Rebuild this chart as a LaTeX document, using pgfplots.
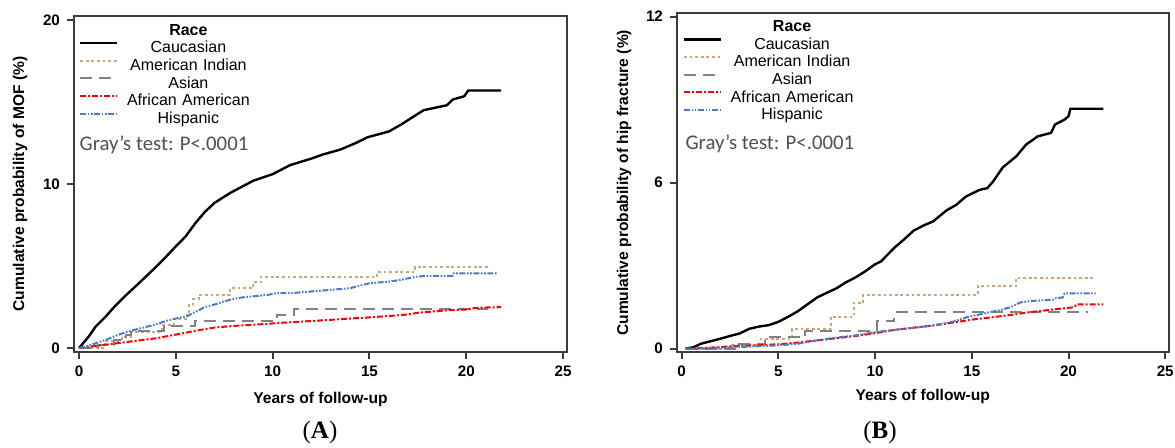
\documentclass[border=0pt]{standalone}
\usepackage{fontspec}
\setmainfont{Liberation Sans}
\newfontfamily\carlito{Carlito}
\newfontfamily\panelfont{Liberation Serif}
\usepackage{pgfplots}
\pgfplotsset{compat=1.18}

\definecolor{framec}{HTML}{3C3C3C}
\definecolor{tanl}{HTML}{CDA678}
\definecolor{grayl}{HTML}{828282}
\definecolor{bluel}{HTML}{4A7BCB}
\definecolor{redl}{HTML}{FF0000}
\definecolor{grtxt}{HTML}{505050}

\pgfplotsset{
  cif/.style={
    scale only axis, anchor=south west,
    axis line style={framec, line width=1pt},
    tick style={framec, line width=1pt},
    major tick length=3.5pt,
    tick align=outside, tick pos=left,
    xmin=-0.26, xmax=25.2, xtick={0,5,...,25},
    /pgf/number format/assume math mode=true,
    ticklabel style={font=\fontsize{7.6}{9}\selectfont\bfseries},
    label style={font=\fontsize{7.8}{9}\selectfont\bfseries},
    xlabel={Years of follow-up},
    legend image code/.code={\draw[##1] (0pt,2.9pt) -- (18.5pt,2.9pt);},
    legend style={draw=none, fill=none, inner sep=0pt, outer sep=0pt,
      anchor=north west, row sep=0.85pt,
      font=\fontsize{8}{9.6}\selectfont,
      nodes={inner xsep=0pt, inner ysep=0pt, text width=66pt, align=center,
        text height=6pt, text depth=2pt},
      /tikz/every odd column/.append style={column sep=2pt}},
  },
  cau/.style={black, line width=1.2pt},
  ami/.style={tanl, line width=1pt, dash pattern=on 1.4pt off 1.4pt},
  asi/.style={grayl, line width=1pt, dash pattern=on 6pt off 3.5pt},
  afr/.style={redl, line width=1pt, dash pattern=on 3pt off 1pt on 1pt off 1pt},
  his/.style={bluel, line width=1pt, dash pattern=on 3pt off 0.8pt on 0.8pt off 0.8pt on 0.8pt off 0.8pt},
}

\begin{document}
\begin{tikzpicture}
\path[use as bounding box] (0,0) rectangle (587.5pt,224pt);

% ---------- (A) major osteoporotic fracture
\begin{axis}[cif,
    at={(37pt,48pt)}, width=246.5pt, height=168pt,
    ymin=-0.24, ymax=20.24, ytick={0,10,20},
    ylabel={Cumulative probability of MOF (\%)},
    xlabel style={at={(axis description cs:0.5,-0.14)}, anchor=center},
    ylabel style={at={(axis description cs:-0.1095,0.5)}, anchor=center},
    legend style={at={(axis description cs:0.0101,0.979)}},
]
\addlegendimage{empty legend}
\addlegendentry{\textbf{Race}}

\addplot[cau] coordinates {
  (0,0) (0.5,0.7) (0.85,1.3) (1.4,1.95) (1.85,2.55) (2.45,3.25) (3.0,3.85)
  (3.4,4.3) (3.85,4.8) (4.4,5.45) (5.0,6.2) (5.5,6.8) (6.0,7.6) (6.5,8.3)
  (7.0,8.85) (7.8,9.45) (8.6,9.95) (9.0,10.2) (10.0,10.6) (10.9,11.15)
  (12.0,11.55) (12.6,11.8) (13.5,12.1) (14.3,12.5) (14.9,12.85) (16.0,13.2)
  (16.6,13.6) (17.4,14.2) (17.8,14.5) (19.0,14.8) (19.3,15.15) (19.9,15.35)
  (20.1,15.7) (21.8,15.7)
};
\addlegendentry{Caucasian}

\addplot[ami, const plot] coordinates {
  (0,0) (1.35,0.45) (2.2,0.65) (2.7,1.0) (4.3,1.4) (4.9,1.8) (5.6,2.1)
  (5.7,2.6) (5.9,3.0) (6.2,3.25) (7.8,3.65) (9.0,4.0) (9.4,4.35)
  (15.4,4.65) (17.35,4.95) (21.2,4.95)
};
\addlegendentry{American Indian}

\addplot[asi, const plot] coordinates {
  (0,0) (1.0,0.2) (1.8,0.5) (2.4,0.8) (2.7,1.05) (4.4,1.35) (6.0,1.65)
  (10.2,2.0) (11.1,2.35) (21.1,2.35)
};
\addlegendentry{Asian}

\addplot[afr] coordinates {
  (0,0) (1,0.15) (2,0.3) (3,0.45) (4,0.6) (5,0.82) (6,1.05) (7,1.25)
  (8,1.35) (9,1.42) (10,1.5) (11,1.58) (12,1.65) (13,1.72) (14,1.8)
  (15,1.87) (16,1.95) (17,2.05) (17.5,2.15) (18,2.2) (19,2.3) (20,2.35)
  (20.5,2.45) (21.8,2.5)
};
\addlegendentry{African American}

\addplot[his] coordinates {
  (0,0) (0.5,0.15) (1,0.35) (1.5,0.55) (2,0.8) (2.5,1.0) (3,1.15) (3.5,1.3)
  (4,1.45) (4.5,1.65) (5,1.8) (5.6,1.95) (6,2.2) (6.5,2.5) (7,2.65)
  (7.5,2.85) (8,3.0) (8.5,3.1) (9,3.15) (9.8,3.25) (10.2,3.35) (11,3.35)
  (12,3.45) (13,3.55) (14,3.65) (14.5,3.8) (15,3.95) (16,4.05) (16.6,4.15)
  (17.4,4.35) (18,4.4) (19.3,4.4) (19.35,4.55) (21.6,4.55)
};
\addlegendentry{Hispanic}

\node[font=\carlito\fontsize{10.4}{12}\selectfont, text=grtxt]
  at (axis description cs:0.1826,0.616) {Gray’s test: P<.0001};
\end{axis}

% ---------- (B) hip fracture
\begin{axis}[cif,
    at={(338.5pt,47.85pt)}, width=245.75pt, height=169.5pt,
    xmin=-0.24, xmax=25.17,
    ymin=-0.13, ymax=12.12, ytick={0,6,12},
    ylabel={Cumulative probability of hip fracture (\%)},
    xlabel style={at={(axis description cs:0.5,-0.131)}, anchor=center},
    ylabel style={at={(axis description cs:-0.1078,0.5)}, anchor=center},
    legend style={at={(axis description cs:0.0116,0.9817)}},
]
\addlegendimage{empty legend}
\addlegendentry{\textbf{Race}}

\addplot[cau] coordinates {
  (0.2,0) (0.6,0.05) (1,0.18) (1.5,0.27) (2,0.36) (2.5,0.46) (3,0.55)
  (3.5,0.72) (4,0.8) (4.5,0.85) (5,0.97) (5.5,1.15) (6,1.35) (6.5,1.6)
  (7,1.85) (7.5,2.02) (8,2.18) (8.5,2.4) (9,2.58) (9.5,2.8) (10,3.05)
  (10.3,3.15) (11,3.65) (11.5,3.95) (12,4.27) (12.5,4.45) (13,4.6)
  (13.7,5.0) (14.2,5.2) (14.7,5.5) (15.4,5.74) (15.8,5.8) (16.1,6.04)
  (16.6,6.55) (17.3,6.95) (17.8,7.37) (18.4,7.67) (19.1,7.8) (19.3,8.1)
  (19.8,8.28) (20.0,8.4) (20.1,8.67) (21.8,8.67)
};
\addlegendentry{Caucasian}

\addplot[ami, const plot] coordinates {
  (0.2,0) (2.6,0.15) (4.1,0.36) (5.7,0.7) (7.7,1.15) (8.9,1.65) (9.4,1.95)
  (15.3,2.27) (17.3,2.57) (21.3,2.57)
};
\addlegendentry{American Indian}

\addplot[asi, const plot] coordinates {
  (0.2,0) (2.8,0.18) (4.3,0.42) (6.4,0.65) (10.1,1.0) (11.0,1.33) (21.0,1.33)
};
\addlegendentry{Asian}

\addplot[afr] coordinates {
  (0.2,0) (1,0.02) (2,0.06) (3,0.1) (4,0.13) (5,0.16) (6,0.22) (7,0.3)
  (8,0.38) (9,0.46) (10,0.56) (11,0.68) (12,0.76) (13,0.84) (14,0.94)
  (15,1.05) (16,1.13) (17,1.22) (18,1.32) (19,1.4) (20.3,1.5) (20.4,1.6)
  (21.8,1.6)
};
\addlegendentry{African American}

\addplot[his] coordinates {
  (0.2,0) (1,0.01) (2,0.03) (3,0.06) (4,0.09) (5,0.12) (6,0.18) (7,0.3)
  (8,0.4) (9,0.48) (10,0.6) (11,0.68) (12,0.75) (13,0.84) (14,0.97)
  (14.8,1.15) (15.5,1.25) (16,1.33) (16.5,1.4) (17,1.5) (17.5,1.67)
  (18,1.72) (19.2,1.77) (19.3,1.82) (19.7,1.85) (19.8,2.0) (21.4,2.0)
};
\addlegendentry{Hispanic}

\node[font=\carlito\fontsize{10.4}{12}\selectfont, text=grtxt]
  at (axis description cs:0.189,0.6136) {Gray’s test: P<.0001};
\end{axis}

\node[font=\panelfont\fontsize{12.5}{14}\selectfont] at (160pt,8pt) {(\textbf{A})};
\node[font=\panelfont\fontsize{12.5}{14}\selectfont] at (440pt,8pt) {(\textbf{B})};
\end{tikzpicture}
\end{document}
